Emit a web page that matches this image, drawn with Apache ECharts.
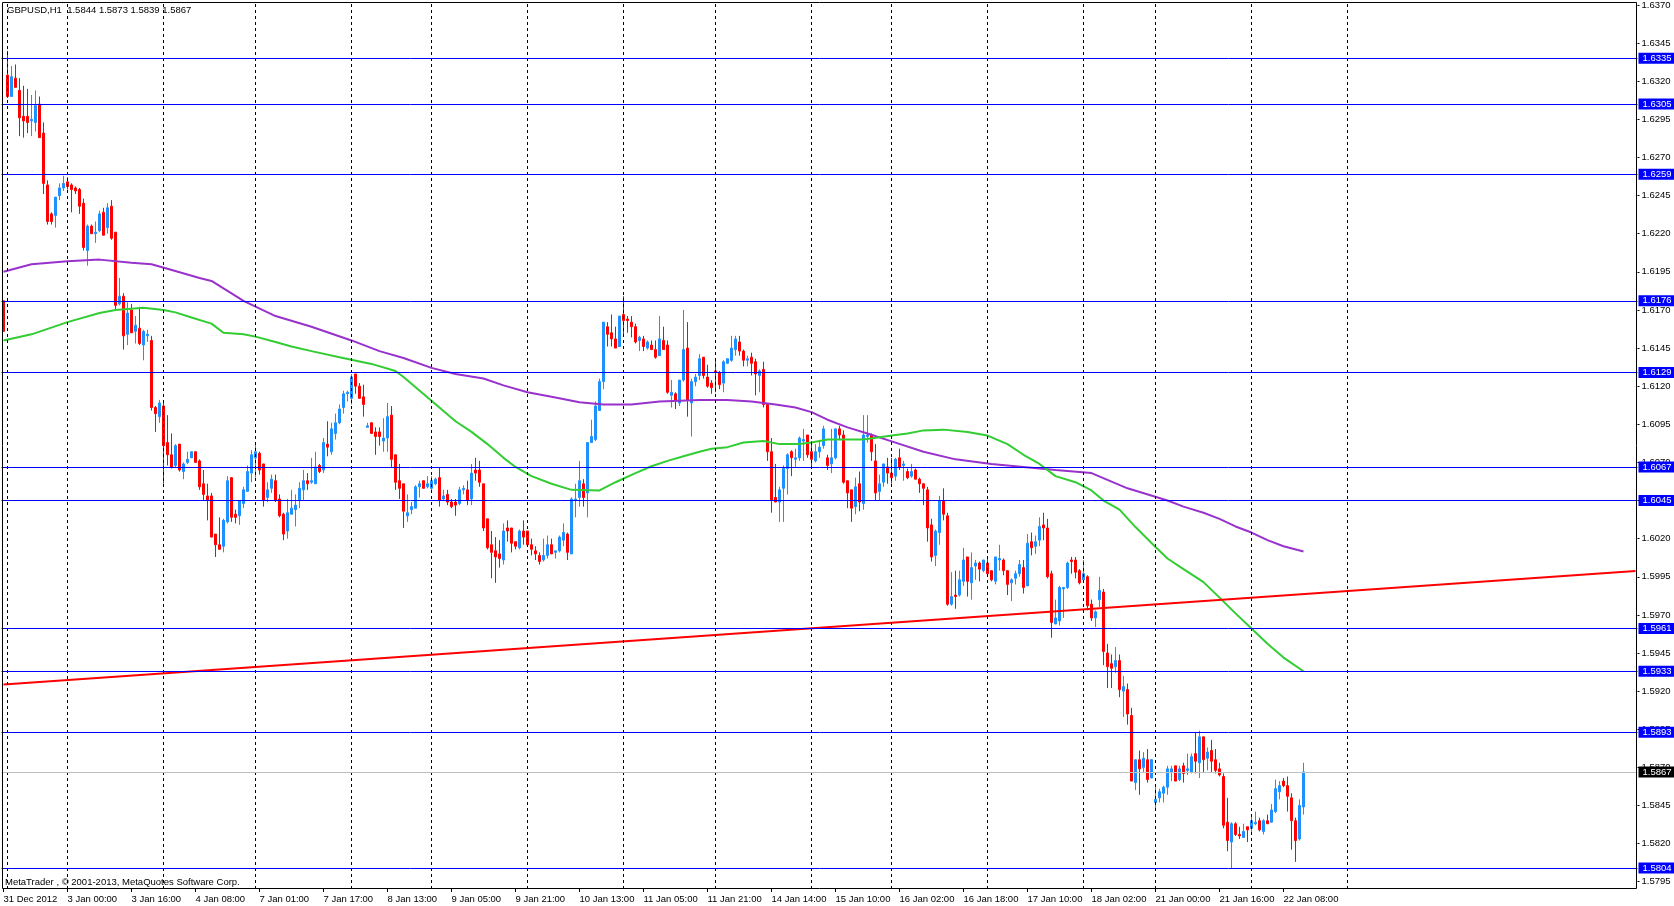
<!DOCTYPE html>
<html><head><meta charset="utf-8">
<script src="https://cdn.jsdelivr.net/npm/echarts/dist/echarts.min.js"></script>
<style>html,body{margin:0;padding:0;background:#fff;}#c{width:1674px;height:906px;}</style>
</head><body><div id="c"></div>
<script>
// ---- DATA (hourly GBPUSD candles; first entry is the partly hidden bar at the left edge)
const opens = [1.6176,
1.6324,1.6310,1.6322,1.6314,1.6297,1.6297,1.6294,1.6293,1.6305,1.6286,
1.6252,1.6233,1.6232,1.6245,1.6250,1.6254,1.6252,1.6250,1.6249,1.6240,
1.6209,1.6225,1.6220,1.6222,1.6234,1.6224,1.6238,1.6221,1.6174,1.6179,
1.6154,1.6170,1.6156,1.6158,1.6147,1.6153,1.6150,1.6106,1.6100,1.6107,
1.6083,1.6075,1.6068,1.6082,1.6064,1.6070,1.6073,1.6077,1.6071,1.6056,
1.6048,1.6048,1.6023,1.6016,1.6015,1.6031,1.6060,1.6036,1.6035,1.6043,
1.6051,1.6063,1.6073,1.6076,1.6069,1.6047,1.6053,1.6058,1.6046,1.6036,
1.6025,1.6036,1.6039,1.6045,1.6052,1.6058,1.6057,1.6056,1.6068,1.6065,
1.6082,1.6077,1.6089,1.6096,1.6106,1.6115,1.6112,1.6128,1.6120,1.6113,
1.6093,1.6096,1.6090,1.6090,1.6084,1.6086,1.6101,1.6075,1.6058,1.6056,
1.6035,1.6039,1.6040,1.6054,1.6058,1.6054,1.6053,1.6056,1.6060,1.6046,
1.6049,1.6044,1.6044,1.6043,1.6052,1.6052,1.6046,1.6065,1.6065,1.6056,
1.6033,1.6016,1.6012,1.6010,1.6006,1.6027,1.6027,1.6018,1.6014,1.6025,
1.6025,1.6016,1.6012,1.6009,1.6006,1.6009,1.6016,1.6011,1.6012,1.6019,
1.6023,1.6010,1.6045,1.6047,1.6056,1.6050,1.6083,1.6085,1.6104,1.6123,
1.6159,1.6155,1.6151,1.6146,1.6167,1.6164,1.6162,1.6159,1.6150,1.6151,
1.6145,1.6147,1.6144,1.6140,1.6150,1.6147,1.6114,1.6115,1.6109,1.6124,
1.6145,1.6109,1.6123,1.6127,1.6139,1.6126,1.6122,1.6130,1.6129,1.6122,
1.6135,1.6137,1.6144,1.6149,1.6143,1.6137,1.6139,1.6136,1.6127,1.6131,
1.6108,1.6077,1.6047,1.6044,1.6053,1.6066,1.6077,1.6072,1.6073,1.6084,
1.6088,1.6077,1.6071,1.6077,1.6081,1.6073,1.6069,1.6073,1.6092,1.6088,
1.6058,1.6052,1.6041,1.6056,1.6043,1.6087,1.6088,1.6071,1.6051,1.6057,
1.6067,1.6063,1.6061,1.6073,1.6068,1.6064,1.6061,1.6065,1.6059,1.6056,
1.6052,1.6029,1.6009,1.6024,1.6045,1.6035,1.5977,1.5983,1.5983,1.5992,
1.6008,1.5991,1.6002,1.6004,1.5999,1.6004,1.5999,1.5992,1.6006,1.6006,
1.5999,1.5991,1.5994,1.5997,1.6001,1.5989,1.6018,1.6015,1.6019,1.6029,
1.6027,1.5997,1.5964,1.5966,1.5987,1.5988,1.6006,1.6006,1.5999,1.5993,
1.5995,1.5977,1.5968,1.5980,1.5985,1.5945,1.5938,1.5936,1.5940,1.5920,
1.5921,1.5904,1.5860,1.5875,1.5870,1.5875,1.5863,1.5847,1.5850,1.5853,
1.5857,1.5867,1.5871,1.5862,1.5871,1.5868,1.5867,1.5879,1.5873,1.5890,
1.5876,1.5881,1.5875,1.5869,1.5864,1.5834,1.5821,1.5833,1.5826,1.5824,
1.5831,1.5830,1.5833,1.5835,1.5828,1.5835,1.5834,1.5841,1.5854,1.5861,
1.5858,1.5850,1.5835,1.5823,1.5844];
const closes = [1.6156,
1.6310,1.6323,1.6316,1.6296,1.6294,1.6293,1.6295,1.6304,1.6283,1.6253,
1.6228,1.6228,1.6244,1.6250,1.6253,1.6251,1.6249,1.6248,1.6238,1.6211,
1.6225,1.6220,1.6221,1.6233,1.6219,1.6237,1.6217,1.6173,1.6179,1.6153,
1.6168,1.6155,1.6160,1.6148,1.6156,1.6154,1.6106,1.6102,1.6109,1.6081,
1.6075,1.6067,1.6081,1.6065,1.6069,1.6072,1.6077,1.6070,1.6054,1.6049,
1.6045,1.6021,1.6016,1.6013,1.6032,1.6058,1.6034,1.6034,1.6045,1.6052,
1.6064,1.6075,1.6077,1.6065,1.6045,1.6052,1.6059,1.6045,1.6035,1.6023,
1.6037,1.6040,1.6042,1.6053,1.6058,1.6056,1.6058,1.6067,1.6064,1.6083,
1.6080,1.6092,1.6096,1.6105,1.6115,1.6116,1.6126,1.6120,1.6112,1.6108,
1.6094,1.6089,1.6087,1.6087,1.6086,1.6100,1.6072,1.6057,1.6053,1.6038,
1.6037,1.6041,1.6054,1.6056,1.6053,1.6056,1.6058,1.6059,1.6045,1.6048,
1.6044,1.6041,1.6042,1.6052,1.6053,1.6045,1.6063,1.6063,1.6057,1.6027,
1.6014,1.6011,1.6008,1.6007,1.6025,1.6025,1.6017,1.6015,1.6025,1.6021,
1.6016,1.6013,1.6010,1.6005,1.6009,1.6016,1.6010,1.6012,1.6021,1.6024,
1.6011,1.6046,1.6046,1.6058,1.6047,1.6083,1.6087,1.6107,1.6123,1.6162,
1.6154,1.6151,1.6145,1.6166,1.6163,1.6163,1.6159,1.6149,1.6152,1.6146,
1.6149,1.6144,1.6139,1.6151,1.6144,1.6116,1.6116,1.6111,1.6124,1.6144,
1.6111,1.6123,1.6126,1.6138,1.6127,1.6120,1.6119,1.6129,1.6121,1.6136,
1.6138,1.6145,1.6151,1.6143,1.6137,1.6138,1.6135,1.6128,1.6130,1.6108,
1.6077,1.6045,1.6044,1.6052,1.6066,1.6075,1.6073,1.6073,1.6086,1.6085,
1.6075,1.6072,1.6077,1.6080,1.6092,1.6068,1.6073,1.6092,1.6088,1.6057,
1.6050,1.6040,1.6054,1.6044,1.6088,1.6088,1.6077,1.6050,1.6056,1.6069,
1.6063,1.6060,1.6072,1.6067,1.6069,1.6060,1.6064,1.6059,1.6056,1.6053,
1.6027,1.6008,1.6025,1.6045,1.6036,1.5977,1.5982,1.5982,1.5993,1.6006,
1.5992,1.6001,1.6004,1.6000,1.6006,1.5997,1.5993,1.6008,1.6007,1.5999,
1.5990,1.5993,1.5997,1.6003,1.5988,1.6017,1.6014,1.6018,1.6028,1.6027,
1.5995,1.5965,1.5968,1.5988,1.5988,1.6004,1.6005,1.5998,1.5991,1.5997,
1.5976,1.5968,1.5972,1.5986,1.5946,1.5936,1.5935,1.5940,1.5921,1.5923,
1.5905,1.5861,1.5875,1.5869,1.5876,1.5862,1.5875,1.5849,1.5854,1.5857,
1.5869,1.5869,1.5861,1.5869,1.5866,1.5869,1.5877,1.5874,1.5890,1.5875,
1.5880,1.5874,1.5868,1.5865,1.5832,1.5822,1.5833,1.5826,1.5825,1.5828,
1.5829,1.5835,1.5834,1.5829,1.5835,1.5833,1.5842,1.5856,1.5858,1.5858,
1.5851,1.5835,1.5822,1.5845,1.5867];
const lows = [1.6156,
1.6309,1.6310,1.6316,1.6284,1.6283,1.6286,1.6284,1.6287,1.6283,1.6246,
1.6226,1.6226,1.6224,1.6242,1.6248,1.6249,1.6234,1.6246,1.6233,1.6209,
1.6199,1.6220,1.6214,1.6221,1.6219,1.6220,1.6216,1.6170,1.6173,1.6144,
1.6147,1.6155,1.6148,1.6147,1.6137,1.6149,1.6104,1.6090,1.6096,1.6056,
1.6068,1.6066,1.6067,1.6064,1.6059,1.6069,1.6073,1.6070,1.6052,1.6045,
1.6032,1.6021,1.6008,1.6013,1.6011,1.6030,1.6031,1.6030,1.6029,1.6040,
1.6051,1.6057,1.6060,1.6062,1.6041,1.6044,1.6050,1.6044,1.6034,1.6019,
1.6020,1.6036,1.6028,1.6040,1.6045,1.6052,1.6056,1.6056,1.6063,1.6063,
1.6074,1.6075,1.6085,1.6095,1.6102,1.6110,1.6108,1.6115,1.6112,1.6100,
1.6093,1.6089,1.6075,1.6081,1.6077,1.6077,1.6067,1.6052,1.6046,1.6027,
1.6031,1.6036,1.6040,1.6047,1.6053,1.6053,1.6050,1.6055,1.6041,1.6045,
1.6042,1.6040,1.6035,1.6042,1.6049,1.6042,1.6042,1.6058,1.6054,1.6025,
1.6013,1.5994,1.5991,1.6001,1.6003,1.6018,1.6011,1.6013,1.6013,1.6016,
1.6015,1.6009,1.6006,1.6003,1.6005,1.6007,1.6010,1.6007,1.6011,1.6015,
1.6006,1.6010,1.6034,1.6041,1.6041,1.6034,1.6083,1.6084,1.6104,1.6118,
1.6146,1.6146,1.6145,1.6146,1.6153,1.6155,1.6152,1.6148,1.6143,1.6143,
1.6144,1.6144,1.6138,1.6140,1.6144,1.6115,1.6106,1.6105,1.6107,1.6123,
1.6100,1.6087,1.6120,1.6124,1.6125,1.6119,1.6115,1.6116,1.6118,1.6116,
1.6135,1.6136,1.6140,1.6140,1.6133,1.6133,1.6127,1.6114,1.6116,1.6106,
1.6071,1.6037,1.6044,1.6031,1.6031,1.6049,1.6061,1.6067,1.6071,1.6071,
1.6073,1.6067,1.6070,1.6073,1.6079,1.6065,1.6063,1.6072,1.6085,1.6056,
1.6040,1.6031,1.6036,1.6038,1.6039,1.6083,1.6071,1.6045,1.6045,1.6054,
1.6056,1.6056,1.6058,1.6065,1.6058,1.6059,1.6060,1.6059,1.6050,1.6042,
1.6018,1.6005,1.6002,1.6016,1.6032,1.5976,1.5976,1.5974,1.5982,1.5989,
1.5982,1.5980,1.5993,1.5992,1.5998,1.5997,1.5992,1.5990,1.5999,1.5996,
1.5983,1.5979,1.5990,1.5995,1.5984,1.5989,1.6009,1.6010,1.6015,1.6019,
1.5994,1.5955,1.5964,1.5963,1.5968,1.5987,1.5997,1.5994,1.5990,1.5991,
1.5973,1.5966,1.5962,1.5975,1.5937,1.5922,1.5922,1.5932,1.5916,1.5903,
1.5898,1.5861,1.5855,1.5852,1.5867,1.5860,1.5863,1.5843,1.5847,1.5847,
1.5852,1.5861,1.5861,1.5861,1.5860,1.5865,1.5866,1.5866,1.5863,1.5867,
1.5868,1.5867,1.5866,1.5864,1.5830,1.5815,1.5804,1.5825,1.5823,1.5824,
1.5821,1.5826,1.5832,1.5828,1.5826,1.5833,1.5834,1.5840,1.5849,1.5857,
1.5841,1.5816,1.5808,1.5822,1.5839];
const highs = [1.6176,
1.6340,1.6330,1.6331,1.6322,1.6317,1.6315,1.6311,1.6314,1.6310,1.6293,
1.6255,1.6234,1.6244,1.6253,1.6258,1.6257,1.6253,1.6251,1.6250,1.6243,
1.6226,1.6226,1.6228,1.6235,1.6237,1.6240,1.6242,1.6221,1.6191,1.6181,
1.6175,1.6174,1.6166,1.6172,1.6157,1.6157,1.6153,1.6107,1.6111,1.6109,
1.6101,1.6089,1.6082,1.6082,1.6070,1.6077,1.6077,1.6077,1.6072,1.6065,
1.6056,1.6050,1.6023,1.6034,1.6033,1.6061,1.6060,1.6039,1.6045,1.6054,
1.6068,1.6078,1.6082,1.6077,1.6069,1.6057,1.6062,1.6062,1.6049,1.6037,
1.6046,1.6052,1.6049,1.6057,1.6065,1.6063,1.6073,1.6077,1.6069,1.6086,
1.6097,1.6096,1.6102,1.6108,1.6117,1.6117,1.6128,1.6128,1.6122,1.6121,
1.6096,1.6096,1.6093,1.6093,1.6099,1.6109,1.6107,1.6075,1.6069,1.6056,
1.6049,1.6044,1.6055,1.6058,1.6058,1.6061,1.6061,1.6060,1.6067,1.6052,
1.6052,1.6046,1.6046,1.6054,1.6055,1.6058,1.6069,1.6073,1.6071,1.6056,
1.6033,1.6025,1.6021,1.6019,1.6030,1.6032,1.6027,1.6018,1.6026,1.6032,
1.6025,1.6020,1.6015,1.6011,1.6020,1.6022,1.6020,1.6012,1.6022,1.6030,
1.6024,1.6047,1.6056,1.6071,1.6059,1.6083,1.6098,1.6110,1.6125,1.6162,
1.6162,1.6167,1.6159,1.6166,1.6179,1.6166,1.6166,1.6161,1.6153,1.6153,
1.6150,1.6150,1.6150,1.6166,1.6159,1.6150,1.6124,1.6116,1.6124,1.6170,
1.6162,1.6125,1.6128,1.6141,1.6139,1.6134,1.6124,1.6138,1.6130,1.6137,
1.6138,1.6153,1.6153,1.6153,1.6144,1.6140,1.6142,1.6138,1.6131,1.6136,
1.6109,1.6086,1.6069,1.6054,1.6068,1.6076,1.6078,1.6079,1.6087,1.6092,
1.6088,1.6084,1.6082,1.6084,1.6094,1.6075,1.6092,1.6092,1.6094,1.6091,
1.6058,1.6052,1.6060,1.6064,1.6101,1.6101,1.6089,1.6082,1.6062,1.6069,
1.6073,1.6073,1.6073,1.6079,1.6071,1.6066,1.6069,1.6066,1.6060,1.6056,
1.6054,1.6033,1.6026,1.6048,1.6053,1.6037,1.5998,1.5999,1.5999,1.6014,
1.6008,1.6011,1.6006,1.6005,1.6006,1.6007,1.5999,1.6008,1.6016,1.6007,
1.5999,1.5994,1.5999,1.6006,1.6006,1.6023,1.6024,1.6022,1.6034,1.6037,
1.6033,1.5999,1.5980,1.5989,1.5988,1.6005,1.6008,1.6008,1.6000,1.6006,
1.5996,1.5980,1.5973,1.5995,1.5987,1.5951,1.5944,1.5949,1.5944,1.5930,
1.5925,1.5909,1.5875,1.5881,1.5880,1.5882,1.5875,1.5857,1.5856,1.5858,
1.5871,1.5871,1.5871,1.5871,1.5873,1.5879,1.5879,1.5893,1.5894,1.5890,
1.5883,1.5888,1.5882,1.5873,1.5866,1.5850,1.5834,1.5834,1.5831,1.5833,
1.5831,1.5838,1.5841,1.5837,1.5836,1.5839,1.5846,1.5862,1.5861,1.5863,
1.5864,1.5853,1.5837,1.5849,1.5873];

// moving averages: [bar slot, price]
const maSlow = [[0,1.6195],[7,1.6200],[16,1.6202],[24,1.6203],[32,1.6201],[37,1.6200],[41,1.6197],[49,1.6191],[52,1.6189],[60,1.6176],[68,1.6166],[77,1.6159],[87,1.6150],[94,1.6143],[100,1.61385],[107,1.6132],[113,1.6128],[120,1.6125],[125,1.61205],[131,1.6116],[137,1.6113],[144,1.61095],[150,1.6108],[157,1.6108],[164,1.6110],[174,1.6111],[181,1.6111],[187,1.6110],[193,1.6108],[198,1.6106],[202,1.6103],[206,1.6098],[211,1.6093],[216,1.6089],[223,1.6083],[230,1.6077],[238,1.6072],[247,1.6069],[255,1.6067],[263,1.6065],[272,1.6063],[281,1.6053],[291,1.6045],[295,1.6041],[300,1.6037],[304,1.6033],[308,1.6028],[312,1.6024],[316,1.6019],[320,1.6015],[325,1.60116]];
const maFast = [[0,1.6150],[7,1.6154],[16,1.6162],[24,1.6168],[28,1.6170],[35,1.61715],[40,1.6170],[43,1.61684],[47,1.6165],[52,1.6161],[55,1.6155],[60,1.6154],[63,1.61525],[68,1.6149],[72,1.6146],[77,1.6143],[84,1.6139],[92,1.61346],[98,1.6130],[100,1.6126],[107,1.61105],[113,1.6097],[117,1.6090],[121,1.6082],[125,1.6073],[128,1.6067],[132,1.6061],[137,1.6056],[142,1.6052],[149,1.60516],[153,1.6057],[158,1.6063],[162,1.60675],[166,1.6071],[170,1.6074],[174,1.6077],[177,1.6079],[181,1.6080],[185,1.6083],[190,1.6084],[194,1.6082],[199,1.6082],[202,1.6083],[206,1.6085],[215,1.6085],[219,1.60865],[223,1.6088],[226,1.6089],[230,1.6091],[235,1.60915],[241,1.6090],[246,1.60876],[251,1.6082],[255,1.6075],[259,1.6069],[263,1.6061],[268,1.6057],[272,1.60516],[275,1.6045],[279,1.6039],[283,1.60276],[288,1.60145],[291,1.6007],[295,1.6000],[300,1.59915],[304,1.59813],[308,1.5971],[312,1.5961],[316,1.5951],[320,1.5942],[325,1.5933]];
const trendLine = [[0,1.59243],[408,1.59987]];
const hLevels = [1.6335,1.6305,1.6259,1.6176,1.6129,1.6067,1.6045,1.5961,1.5933,1.5893,1.5804];
const bidLevel = 1.5867;
const priceTicks = [1.5795,1.5820,1.5845,1.5870,1.5895,1.5920,1.5945,1.5970,1.5995,1.6020,1.6045,1.6070,1.6095,1.6120,1.6145,1.6170,1.6195,1.6220,1.6245,1.6270,1.6295,1.6320,1.6345,1.6370];
const xLabels = ['31 Dec 2012','3 Jan 00:00','3 Jan 16:00','4 Jan 08:00','7 Jan 01:00','7 Jan 17:00','8 Jan 13:00','9 Jan 05:00','9 Jan 21:00','10 Jan 13:00','11 Jan 05:00','11 Jan 21:00','14 Jan 14:00','15 Jan 10:00','16 Jan 02:00','16 Jan 18:00','17 Jan 10:00','18 Jan 02:00','21 Jan 00:00','21 Jan 16:00','22 Jan 08:00'];
const xLabelSlots = [0,16,32,48,64,80,96,112,128,144,160,176,192,208,224,240,256,272,288,304,320];
const daySeparators = [1,16,40,63,87,107,131,155,178,202,222,246,270,288,312,336];
const titleText = 'GBPUSD,H1  1.5844 1.5873 1.5839 1.5867';
const copyText = 'MetaTrader , \u00A9 2001-2013, MetaQuotes Software Corp.';

// ---- CHART
const SLOTS = 409;
const FONT = '"Liberation Sans", Arial, sans-serif';
const cats = Array.from({length: SLOTS}, (_, i) => String(i));
const labelMap = {};
xLabelSlots.forEach((s, i) => { labelMap[s] = xLabels[i]; });
const candleData = opens.map((o, i) => [o, closes[i], lows[i], highs[i]]);

const boxLabel = (bg) => ({
  show: true, position: 'end', distance: 1,
  formatter: p => Number(p.value).toFixed(4),
  color: '#fff', backgroundColor: bg, padding: [1, 3, 0, 4],
  fontSize: 9.5, fontFamily: FONT, lineHeight: 10
});

const chart = echarts.init(document.getElementById('c'), null, {renderer: 'canvas'});
chart.setOption({
  animation: false,
  backgroundColor: '#fff',
  grid: {left: 1.5, right: 36.5, top: 2.5, bottom: 17, containLabel: false},
  xAxis: {
    type: 'category', data: cats, boundaryGap: true,
    axisLine: {show: false},
    axisTick: {show: true, alignWithLabel: true, length: 3, interval: (i) => labelMap[i] !== undefined, lineStyle: {color: '#000'}},
    axisLabel: {interval: (i) => labelMap[i] !== undefined, formatter: (v, i) => labelMap[i] || '', align: 'left', margin: 5, fontSize: 9.5, color: '#000', fontFamily: FONT},
    splitLine: {show: false}
  },
  yAxis: {
    type: 'value', position: 'right', min: 1.579021, max: 1.637092,
    axisLine: {show: false},
    axisTick: {show: true, customValues: priceTicks, length: 2, lineStyle: {color: '#000'}},
    axisLabel: {customValues: priceTicks, formatter: v => v.toFixed(4), color: '#000', fontSize: 9.5, fontFamily: FONT, margin: 4},
    splitLine: {show: false}
  },
  series: [
    {
      type: 'line', name: 'sep', data: [], z: 1, silent: true,
      markLine: {silent: true, symbol: ['none', 'none'], label: {show: false}, precision: 6,
        lineStyle: {color: '#000', type: [3, 3], width: 1},
        data: daySeparators.map(s => ({xAxis: s}))}
    },
    {
      type: 'candlestick', name: 'GBPUSD', data: candleData, barWidth: 2, z: 2,
      itemStyle: {color: '#1E90FF', color0: '#FF0000', borderColor: '#1E90FF', borderColor0: '#FF0000', borderColorDoji: '#1E90FF', borderWidth: 1}
    },
    {type: 'line', name: 'MA slow', data: maSlow, symbol: 'none', z: 3, lineStyle: {color: '#9932CC', width: 2}},
    {type: 'line', name: 'MA fast', data: maFast, symbol: 'none', z: 3, lineStyle: {color: '#32CD32', width: 2}},
    {type: 'line', name: 'trend', data: trendLine, symbol: 'none', z: 4, lineStyle: {color: '#FF0000', width: 2}},
    {
      type: 'line', name: 'levels', data: [], z: 5, silent: true,
      markLine: {silent: true, symbol: ['none', 'none'], precision: 6,
        lineStyle: {color: '#0000FF', type: 'solid', width: 1},
        label: boxLabel('#0000FF'),
        data: hLevels.map(v => ({yAxis: v})).concat([{yAxis: bidLevel, lineStyle: {color: '#C0C0C0', type: 'solid', width: 1}, label: boxLabel('#000000')}])}
    }
  ],
  graphic: [
    {type: 'rect', silent: true, z: 100, shape: {x: 2.5, y: 2.5, width: 1634, height: 886}, style: {fill: 'none', stroke: '#000', lineWidth: 1}},
    {type: 'text', silent: true, z: 100, left: 7, top: 5, style: {text: titleText, fill: '#000', font: '9.5px ' + FONT}},
    {type: 'text', silent: true, z: 100, left: 5, top: 877, style: {text: copyText, fill: '#000', font: '9.5px ' + FONT}}
  ]
});
</script></body></html>
